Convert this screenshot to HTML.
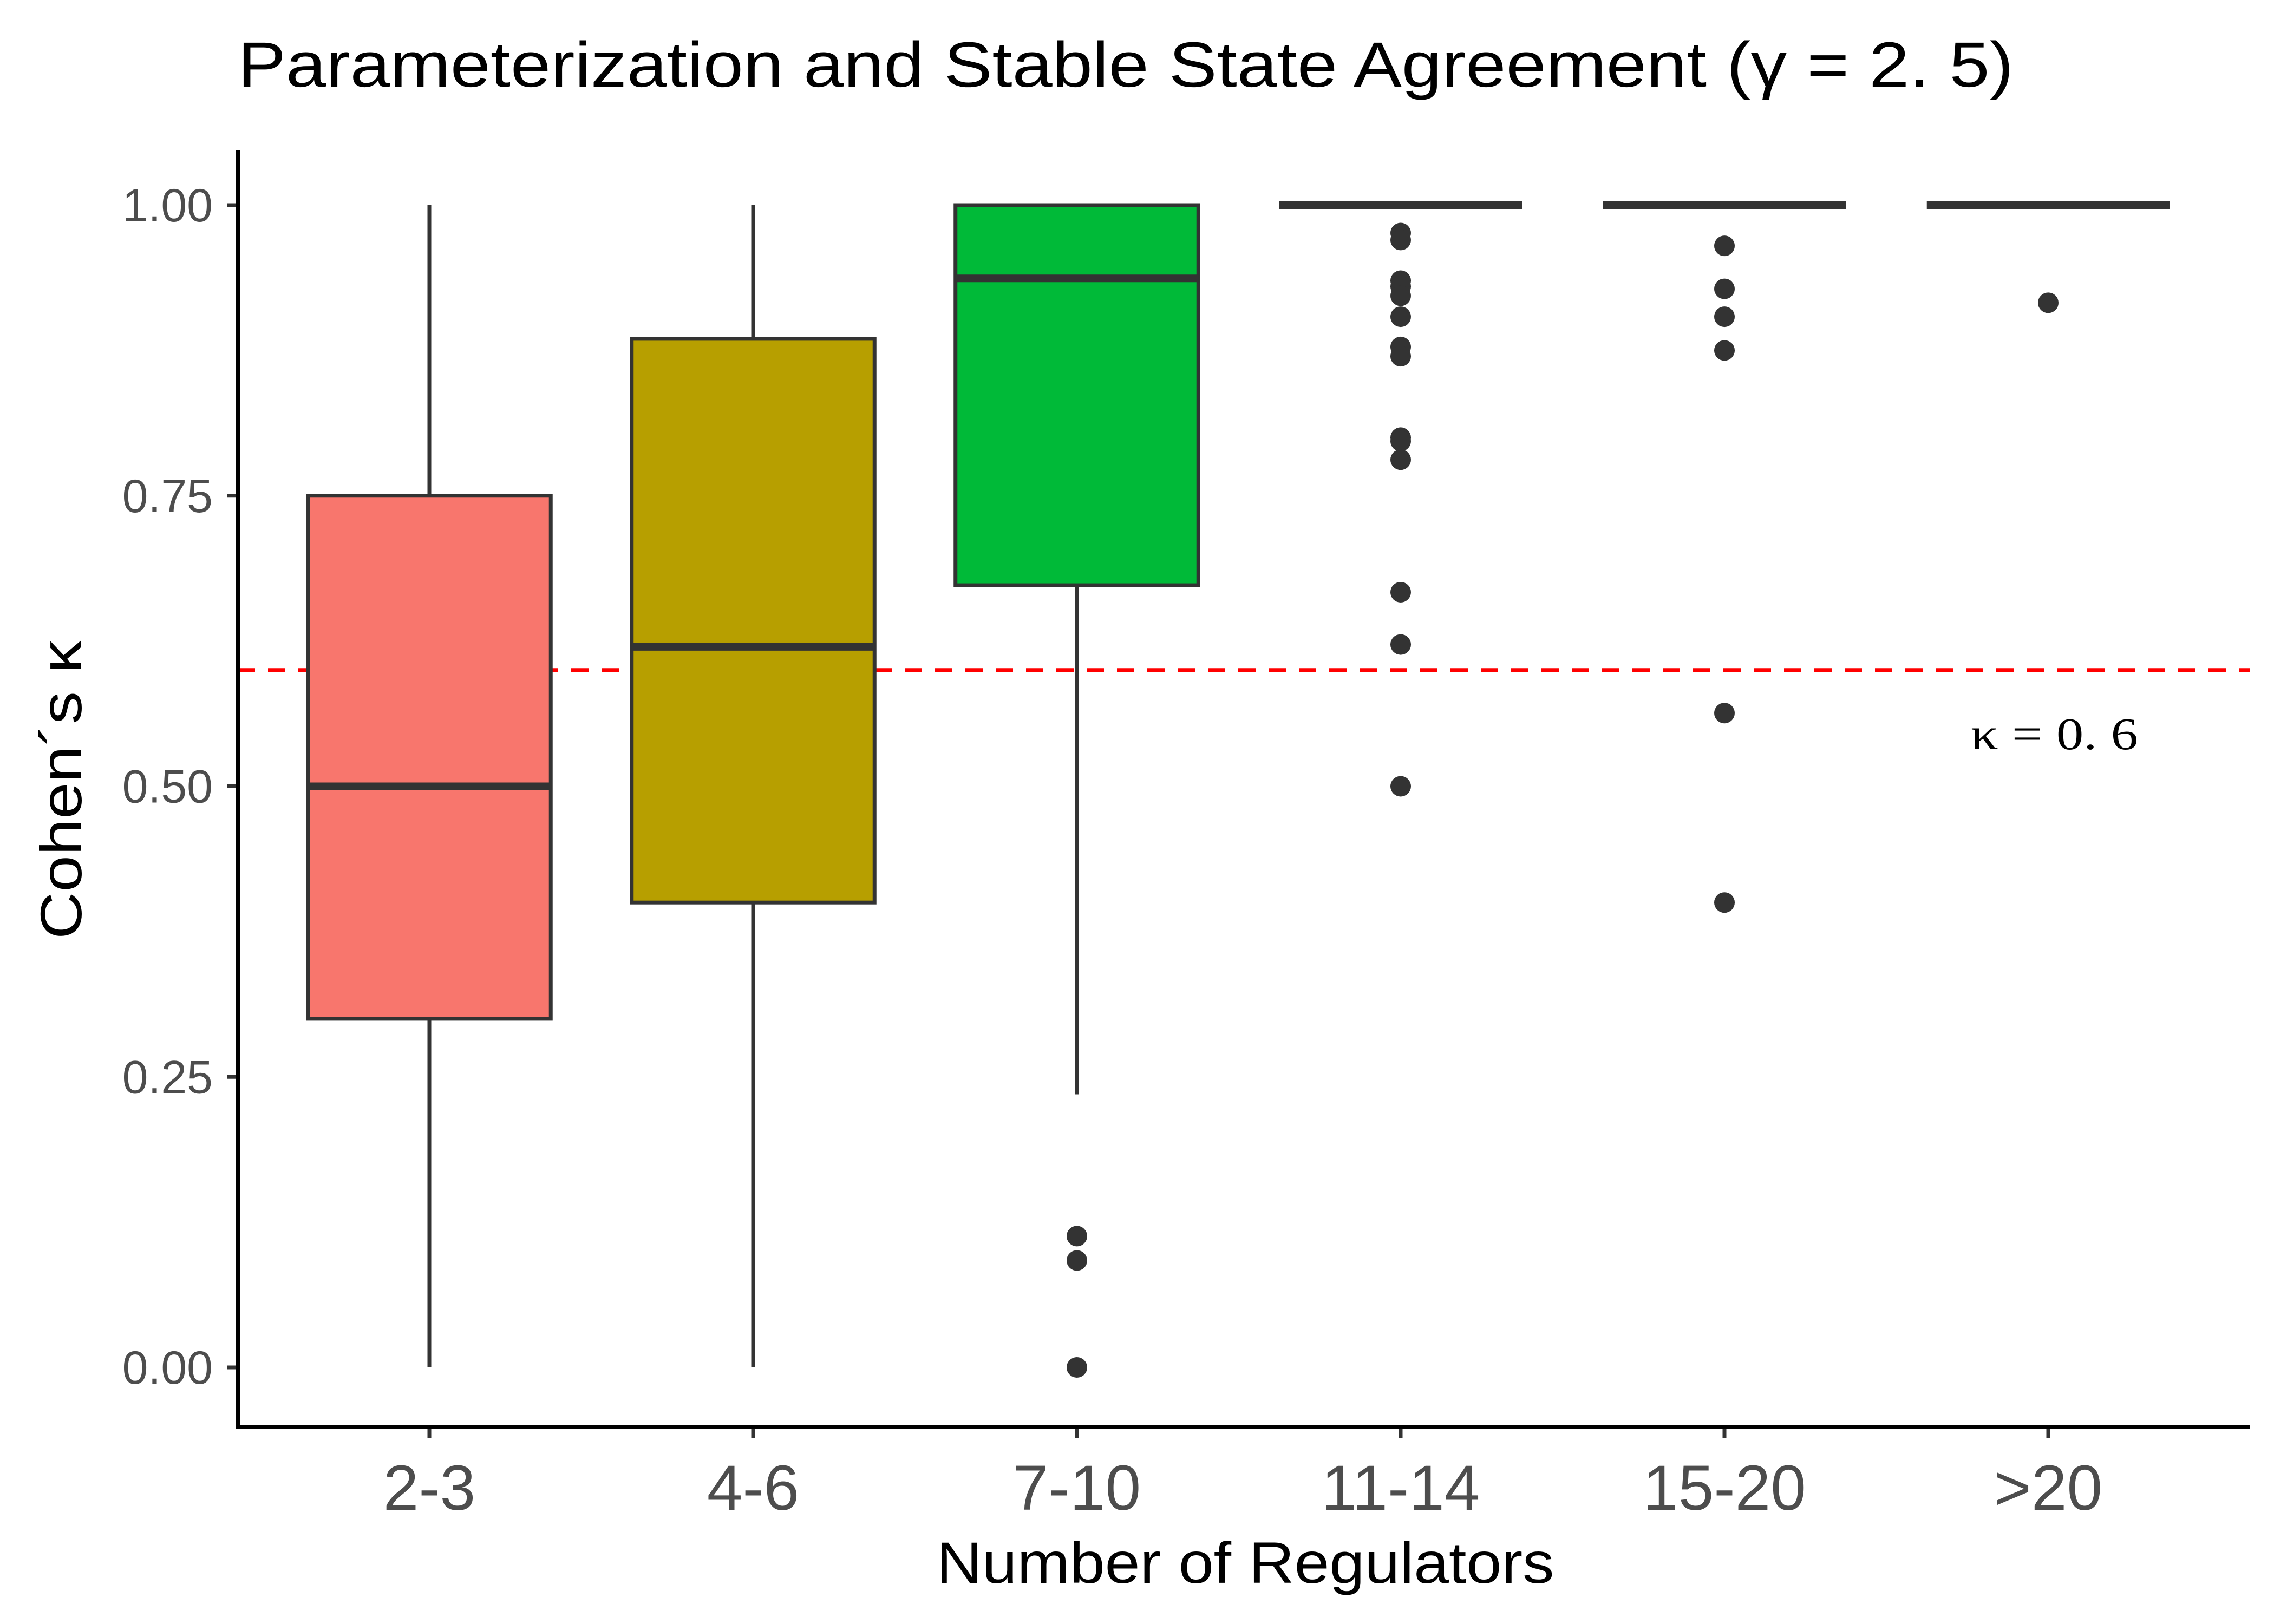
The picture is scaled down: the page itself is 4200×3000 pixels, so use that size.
<!DOCTYPE html>
<html><head><meta charset="utf-8"><style>html,body{margin:0;padding:0;background:#fff}svg{display:block}</style></head>
<body>
<svg id="chart" width="4200" height="3000" viewBox="0 0 4200 3000" xmlns="http://www.w3.org/2000/svg" font-family="Liberation Sans, sans-serif">
<rect width="4200" height="3000" fill="#fff"/>
<text x="439" y="160" font-size="118" fill="#000" textLength="3280" lengthAdjust="spacingAndGlyphs">Parameterization and Stable State Agreement (γ = 2. 5)</text>
<g id="plot"></g>
<text x="2300" y="2924" font-size="108" text-anchor="middle" textLength="1141" lengthAdjust="spacingAndGlyphs">Number of Regulators</text>
<text transform="translate(150,1459) rotate(-90)" font-size="108" text-anchor="middle" textLength="552" lengthAdjust="spacingAndGlyphs">Cohen´s κ</text>
<text x="3640" y="1384" font-family="Liberation Serif, serif" font-size="84" textLength="309" lengthAdjust="spacingAndGlyphs">κ = 0. 6</text>
</svg>
<script>
const categories = ["2-3","4-6","7-10","11-14","15-20",">20"];
const lowWhisker = [0, 0, 0.235, 1, 1, 1];
const q1 = [0.30, 0.40, 0.673, 1, 1, 1];
const median = [0.50, 0.62, 0.937, 1, 1, 1];
const q3 = [0.75, 0.885, 1, 1, 1, 1];
const highWhisker = [1, 1, 1, 1, 1, 1];
const fills = ["#F8766D","#B79F00","#00BA38","#B79F00","#00BFC4","#F564E3"];
const outliers = [[], [], [0.113,0.092,0.0],
 [0.976,0.970,0.935,0.930,0.922,0.904,0.878,0.870,0.800,0.797,0.781,0.667,0.622,0.5],
 [0.965,0.928,0.904,0.875,0.563,0.40], [0.916]];
const yTicks = [0,0.25,0.5,0.75,1];
const yTickLabels = ["0.00","0.25","0.50","0.75","1.00"];
const threshold = 0.6;

const NS="http://www.w3.org/2000/svg";
const g=document.getElementById('plot');
const X0=439, X1=4155, YT=277, YB=2636;
const y=v=>2526-(2526-379)*v;
const step=598, x=i=>793+i*step, bw=step*0.75;
function mk(t,a){const e=document.createElementNS(NS,t);for(const k in a)e.setAttribute(k,a[k]);g.appendChild(e);return e;}
let e=mk('line',{x1:X0,x2:X1,y1:y(threshold),y2:y(threshold),stroke:'#ff0000','stroke-width':7,'stroke-dasharray':'32 24'});


categories.forEach((c,i)=>{
  const cx=x(i);
  let w=mk('line',{x1:cx,x2:cx,y1:y(highWhisker[i]),y2:y(q3[i]),stroke:'#333','stroke-width':7});
  
  
  w=mk('line',{x1:cx,x2:cx,y1:y(q1[i]),y2:y(lowWhisker[i]),stroke:'#333','stroke-width':7});
  
  
  const h=Math.max(y(q1[i])-y(q3[i]),0);
  let b=mk('rect',{x:cx-bw/2,y:y(q3[i]),width:bw,height:h,fill:fills[i],stroke:'#333','stroke-width':7});
  
  
  let m=mk('line',{x1:cx-bw/2,x2:cx+bw/2,y1:y(median[i]),y2:y(median[i]),stroke:'#333','stroke-width':14});
  
  
  outliers[i].forEach(v=>{
    const p=mk('circle',{cx:cx,cy:y(v),r:19,fill:'#333'});
    
    
  });
  const tk=mk('line',{x1:cx,x2:cx,y1:YB,y2:YB+20,stroke:'#333','stroke-width':7});
  
  
  const t=mk('text',{x:cx,y:2789,'font-size':118,'text-anchor':'middle',fill:'#4d4d4d'});
  t.textContent=c;
  
  
});
yTicks.forEach((v,i)=>{
  const tk=mk('line',{x1:X0-20,x2:X0,y1:y(v),y2:y(v),stroke:'#333','stroke-width':7});
  
  
  const t=mk('text',{x:393,y:y(v)+30,'font-size':86,'text-anchor':'end',fill:'#4d4d4d'});
  t.textContent=yTickLabels[i];
  
  
});
let ax=mk('line',{x1:X0,x2:X0,y1:YT,y2:YB+4,stroke:'#000','stroke-width':8});


ax=mk('line',{x1:X0-4,x2:X1,y1:YB,y2:YB,stroke:'#000','stroke-width':8});


</script>
</body></html>
